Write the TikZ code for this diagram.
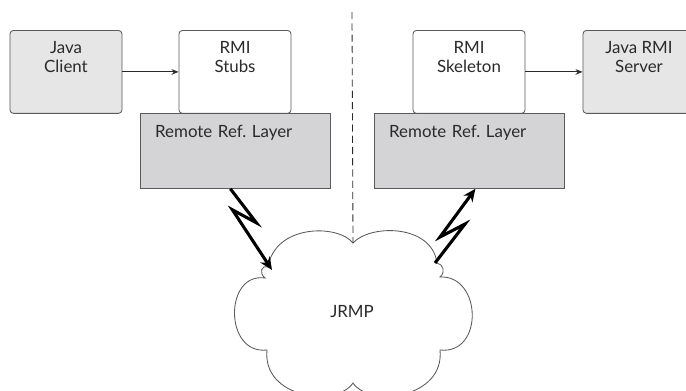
\documentclass[tikz,border=0pt]{standalone}
\usepackage{fontspec}
\setsansfont{Lato}
\usetikzlibrary{arrows.meta}
\definecolor{edgegray}{HTML}{5A5A5A}
\definecolor{appfill}{HTML}{E6E6E6}
\definecolor{layerfill}{HTML}{D4D4D6}
\definecolor{inkgray}{HTML}{2A2A2A}
\begin{document}
\begin{tikzpicture}[x=0.025cm,y=-0.025cm,
  every node/.style={font=\sffamily\fontsize{12}{13.5}\selectfont, text=inkgray},
  tier/.style={draw=edgegray, line width=0.6pt, rounded corners=2.5pt, anchor=north,
    minimum width=2.8cm, align=center, inner ysep=8pt, text height=22pt, text depth=21pt},
  layer/.style={draw=edgegray, line width=0.6pt, fill=layerfill, anchor=north west,
    inner xsep=10.5pt, inner ysep=8pt, text width=4.009cm, align=left,
    text height=9pt, text depth=28.3pt},
  call/.style={draw=inkgray, line width=0.6pt, -{Stealth[length=5pt,width=4pt]}},
  bolt/.style={draw=black, line width=2.2pt, line join=miter, -{Stealth[length=9pt,width=8pt]}},
  divider/.style={draw=inkgray, line width=0.6pt, dash pattern=on 5pt off 3pt}]
\useasboundingbox (0,0) rectangle (686,390);
\clip (0,0) rectangle (686,390);

\node[tier, fill=appfill] (client) at (66,30) {Java\\Client};
\node[tier, fill=white] (stubs) at (235,30) {RMI\\Stubs};
\node[tier, fill=white] (skel) at (469,30) {RMI\\Skeleton};
\node[tier, fill=appfill] (server) at (639,30) {Java RMI\\Server};
\node[layer] (refL) at (140,113) {Remote Ref.\ Layer};
\node[layer] (refR) at (374,113) {Remote Ref.\ Layer};

% the network cloud
\draw[edgegray, line width=0.6pt, fill=white]
  (353,243) .. controls (370,224) and (432,224) .. (437,263)
  .. controls (443,264) and (446,272) .. (440,277)
  .. controls (482,275) and (484,355) .. (440,350)
  .. controls (445,398) and (370,408) .. (353,383)
  .. controls (336,408) and (262,398) .. (267,350)
  .. controls (224,355) and (224,272) .. (265,278)
  .. controls (259,273) and (261,265) .. (268,267)
  .. controls (275,224) and (338,224) .. (353,243) -- cycle;
\node (jrmp) at (352,312) {JRMP};

\coordinate (top) at (352,12);
\coordinate (cloudtop) at (353,243);
\coordinate (hitL) at (272,270);
\coordinate (hitR) at (435,263);

\path[divider] (top) -- (cloudtop);
\path[call] (client) -- (stubs);
\path[call] (skel) -- (server);
\path[bolt] ([xshift=-0.125cm]refL.south) -- ++(26,34) -- ++(-24,-13) -- (hitL);
\path[bolt] (hitR) -- ++(30,-39) -- ++(-25,13) -- ([xshift=0.15cm]refR.south);
\end{tikzpicture}
\end{document}
